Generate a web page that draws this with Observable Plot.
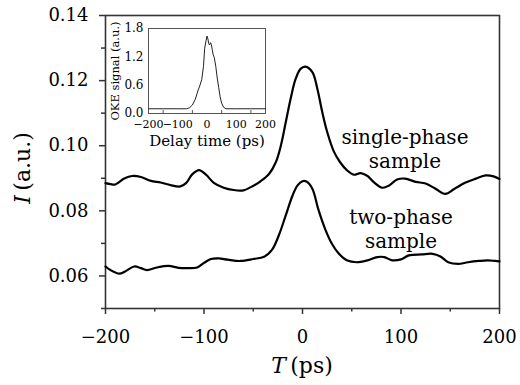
<!DOCTYPE html>
<html><head><meta charset="utf-8">
<script src="https://cdn.jsdelivr.net/npm/d3@7"></script>
<script src="https://cdn.jsdelivr.net/npm/@observablehq/plot@0.6"></script>
<style>
body{margin:0;background:#fff;}
#wrap{position:relative;width:520px;height:385px;}
#inset{position:absolute;left:103px;top:23px;}
svg text{font-family:'DejaVu Serif', serif;}
</style></head><body><div id="wrap"></div><div id="inset"></div>
<script>
// Main chart: single-phase sample
const singleT = [-200,-195,-190,-181,-173,-164,-154,-144,-134,-124,-118,-112,-105,-98,-90,-80,-70,-60,-53,-43,-34,-27,-22,-17,-12,-7,-2,3,10,15,20,25,32,38,45,52,59,66,72,81,88,96,104,115,125,135,145,154,165,176,186,194,200];
const singleI = [0.0885,0.0882,0.0881,0.0899,0.0907,0.0904,0.0892,0.0887,0.0879,0.0875,0.0886,0.0912,0.0925,0.0911,0.0886,0.0871,0.0864,0.0863,0.0872,0.0890,0.0913,0.0950,0.1000,0.1072,0.1145,0.1205,0.1236,0.1243,0.1226,0.1176,0.1104,0.1043,0.0981,0.0950,0.0925,0.0911,0.0916,0.0907,0.0889,0.0871,0.0878,0.0896,0.0899,0.0889,0.0884,0.0868,0.0852,0.0867,0.0886,0.0899,0.0909,0.0906,0.0898];
// Main chart: two-phase sample
const twoT = [-200,-195,-186,-180,-171,-164,-158,-148,-136,-126,-117,-107,-100,-93,-85,-76,-63,-50,-39,-31,-24,-17,-10,-5,0,4,10,16,23,30,37,45,55,66,76,83,91,100,108,121,132,140,148,158,168,179,188,196,200];
const twoI = [0.0629,0.0618,0.0607,0.0614,0.0629,0.0624,0.0618,0.0626,0.0631,0.0625,0.0624,0.0626,0.0640,0.0652,0.0654,0.0650,0.0646,0.0652,0.0659,0.0680,0.0725,0.0786,0.0848,0.0878,0.0891,0.0890,0.0868,0.0805,0.0744,0.0698,0.0668,0.0648,0.0642,0.0648,0.0658,0.0658,0.0648,0.0651,0.0663,0.0666,0.0668,0.0660,0.0642,0.0637,0.0642,0.0646,0.0648,0.0646,0.0645];
// Inset: OKE signal
const insetT = [-200,-150,-100,-70,-60,-50,-40,-30,-25,-18,-12,-8,-3,0,3,6,9,12,15,18,21,25,30,35,40,45,50,57,65,100,150,200];
const insetS = [0.10,0.10,0.10,0.10,0.12,0.18,0.30,0.50,0.58,0.72,1.00,1.38,1.55,1.64,1.58,1.48,1.45,1.50,1.46,1.35,1.25,1.18,1.00,0.75,0.55,0.35,0.22,0.13,0.10,0.10,0.10,0.10];
// Ticks and labels
const xMajor = [-200,-100,0,100,200];
const xMinor = [-150,-50,50,150];
const yMajor = [0.06,0.08,0.10,0.12,0.14];
const yMinor = [0.05,0.07,0.09,0.11,0.13];
const insetXTicks = [-200,-100,0,100,200];
const insetXMinor = [-150,-50,50,150];
const insetYTicks = [0.0,0.6,1.2,1.8];
const seriesLabels = ["single-phase\nsample","two-phase\nsample"];
const xLabel = ["T","(ps)"];
const yLabel = ["I","(a.u.)"];
const insetXLabel = "Delay time (ps)";
const insetYLabel = "OKE signal (a.u.)";

const single = singleT.map((t,i)=>({t, v: singleI[i]}));
const two = twoT.map((t,i)=>({t, v: twoI[i]}));
const inset = insetT.map((t,i)=>({t, v: insetS[i]}));

const FONT = "'DejaVu Serif', serif";
const ink = "#333";
const main = Plot.plot({
  width: 520, height: 385,
  marginLeft: 105, marginRight: 21, marginTop: 15, marginBottom: 77,
  x: {domain: [-200, 200]},
  y: {domain: [0.05, 0.14]},
  style: {fontFamily: FONT, fontSize: "18px", background: "white", color: "black", overflow: "visible"},
  marks: [
    Plot.frame({stroke: ink, strokeWidth: 1.6}),
    Plot.axisX(xMajor, {tickSize: 6, tickPadding: 16, stroke: ink, strokeWidth: 1.5, fontSize: 18, fill: "black", label: null}),
    Plot.axisX(xMinor, {tickSize: 3.5, text: null, stroke: ink, strokeWidth: 1.5, label: null}),
    Plot.axisY(yMajor, {tickSize: 6, tickPadding: 11, stroke: ink, strokeWidth: 1.5, fontSize: 18, fill: "black", tickFormat: d => d.toFixed(2), label: null}),
    Plot.axisY(yMinor, {tickSize: 4, text: null, stroke: ink, strokeWidth: 1.5, label: null}),
    Plot.line(single, {x: "t", y: "v", stroke: "black", strokeWidth: 2.2, curve: "catmull-rom"}),
    Plot.line(two, {x: "t", y: "v", stroke: "black", strokeWidth: 2.2, curve: "catmull-rom"}),
    Plot.text([seriesLabels[0]], {x: 104, y: 0.0932, text: d => d, lineAnchor: "bottom", lineHeight: 1.2, fontSize: 20, fill: "black"}),
    Plot.text([seriesLabels[1]], {x: 100, y: 0.0686, text: d => d, lineAnchor: "bottom", lineHeight: 1.2, fontSize: 20, fill: "black"})
  ]
});
const svg = d3.select(main);
const yl = svg.append("text").attr("transform", "translate(30,168) rotate(-90)")
  .attr("text-anchor", "middle").attr("font-size", 22).attr("fill", "black").style("font-family", FONT);
yl.append("tspan").attr("font-style", "italic").text(yLabel[0]);
yl.append("tspan").text("\u2009" + yLabel[1]);
const xl = svg.append("text").attr("transform", "translate(302,373)")
  .attr("text-anchor", "middle").attr("font-size", 22).attr("fill", "black").style("font-family", FONT);
xl.append("tspan").attr("font-style", "italic").text(xLabel[0]);
xl.append("tspan").text("\u2009" + xLabel[1]);
document.getElementById("wrap").appendChild(main);

const ins = Plot.plot({
  width: 174, height: 128,
  marginLeft: 45, marginRight: 12, marginTop: 5, marginBottom: 38,
  x: {domain: [-200, 200]},
  y: {domain: [0, 1.8]},
  style: {fontFamily: FONT, fontSize: "12px", background: "transparent", color: "black", overflow: "visible"},
  marks: [
    Plot.frame({fill: "white", stroke: "#555", strokeWidth: 1}),
    Plot.axisX(insetXTicks, {tickSize: 0, tickPadding: 7, fontSize: 11, fill: "black", label: null}),
    Plot.axisX(insetXMinor, {tickSize: -3, text: null, stroke: "#555", label: null}),
    Plot.axisY(insetYTicks, {tickSize: 0, tickPadding: 5, fontSize: 12, fill: "black", tickFormat: d => d.toFixed(1), label: null}),
    Plot.line(inset, {x: "t", y: "v", stroke: "#222", strokeWidth: 1}),
    Plot.text([insetXLabel], {frameAnchor: "bottom", dy: 32, lineAnchor: "bottom", fontSize: 15, fill: "black"}),
    Plot.text([insetYLabel], {frameAnchor: "left", dx: -33, rotate: -90, textAnchor: "middle", fontSize: 11.5, fill: "black"})
  ]
});
const wrap = document.getElementById("wrap");
const insDiv = document.getElementById("inset");
insDiv.appendChild(ins);
wrap.appendChild(insDiv);
</script>
</body></html>
